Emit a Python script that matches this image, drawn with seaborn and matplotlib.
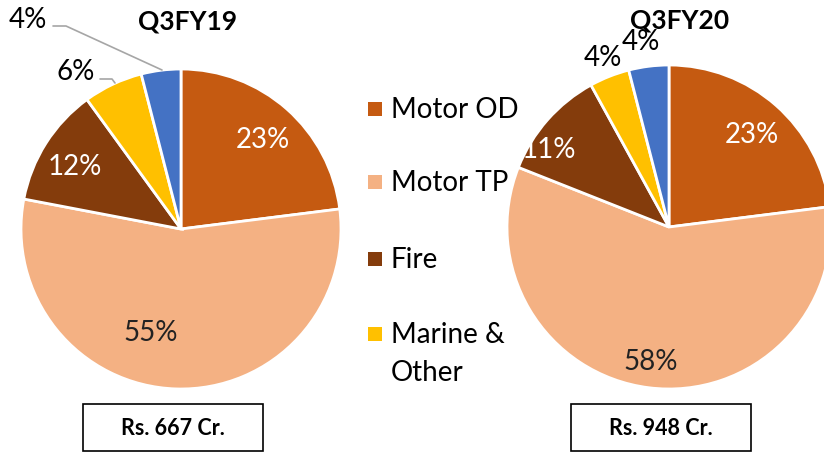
import matplotlib
matplotlib.use("Agg")
import matplotlib.pyplot as plt
from matplotlib.patches import Rectangle
import seaborn as sns

# Premium mix by line of business
segments = ["Motor OD", "Motor TP", "Fire", "Marine & Other", "Others"]
share_fy19 = [23, 55, 12, 6, 4]
share_fy20 = [23, 58, 11, 4, 4]
periods = ["Q3FY19", "Q3FY20"]
totals = ["Rs. 667 Cr.", "Rs. 948 Cr."]
legend_lines = [["Motor OD"], ["Motor TP"], ["Fire"], ["Marine &", "Other"]]

sns.set_theme(style="white")
plt.rcParams["font.family"] = ["Lato", "DejaVu Sans"]
palette = sns.color_palette(["#C55A11", "#F4B183", "#843C0C", "#FFC000", "#4472C4"])

W, H = 824, 456
fig = plt.figure(figsize=(W / 100, H / 100), dpi=100)
ax = fig.add_axes([0, 0, 1, 1])

def y(py):
    return H - py

pies = [
    dict(values=share_fy19, center=(181, y(230)), radius=160,
         title_xy=(188, y(21)), box=(83, 405, 180, 47),
         label_xy=[(263, 140), (151, 333), (75, 167), (76, 72), (28, 20)],
         label_col=["white", "#222222", "white", "black", "black"]),
    dict(values=share_fy20, center=(669, y(228)), radius=162,
         title_xy=(680, y(20)), box=(571, 405, 180, 47),
         label_xy=[(752, 135), (651, 362), (549, 150), (603, 58), (641, 42)],
         label_col=["white", "#222222", "white", "black", "black"]),
]

for i, p in enumerate(pies):
    ax.pie(p["values"], colors=palette, startangle=90, counterclock=False,
           center=p["center"], radius=p["radius"],
           wedgeprops=dict(edgecolor="white", linewidth=2))
    for v, (lx, ly), c in zip(p["values"], p["label_xy"], p["label_col"]):
        ax.text(lx, y(ly), f"{v}%", ha="center", va="center",
                fontsize=20, color=c)
    ax.text(*p["title_xy"], periods[i], ha="center", va="center",
            fontsize=19, fontweight="bold", color="black")
    bx, by, bw, bh = p["box"]
    ax.add_patch(Rectangle((bx, y(by + bh)), bw, bh, facecolor="white",
                           edgecolor="black", linewidth=1.2))
    ax.text(bx + bw / 2, y(by + bh / 2), totals[i], ha="center", va="center",
            fontsize=15.5, fontweight="bold", color="black")

# Leader lines for the small left-hand slices
ax.plot([53, 66, 162], [y(27), y(27), y(71)], color="#A6A6A6", lw=1.2)
ax.plot([100, 112, 115], [y(80), y(80), y(84)], color="#A6A6A6", lw=1.2)

# Legend
legend_y = [110, 183, 260, 335]
for lines, ly, col in zip(legend_lines, legend_y, palette):
    ax.add_patch(Rectangle((368, y(ly) - 7), 14, 14, facecolor=col,
                           edgecolor="none"))
    for k, line in enumerate(lines):
        ax.text(391, y(ly + 38 * k), line, ha="left", va="center",
                fontsize=20, color="black")

ax.set_xlim(0, W)
ax.set_ylim(0, H)
ax.set_aspect("equal")
ax.axis("off")
fig.savefig("out.png", dpi=100)
